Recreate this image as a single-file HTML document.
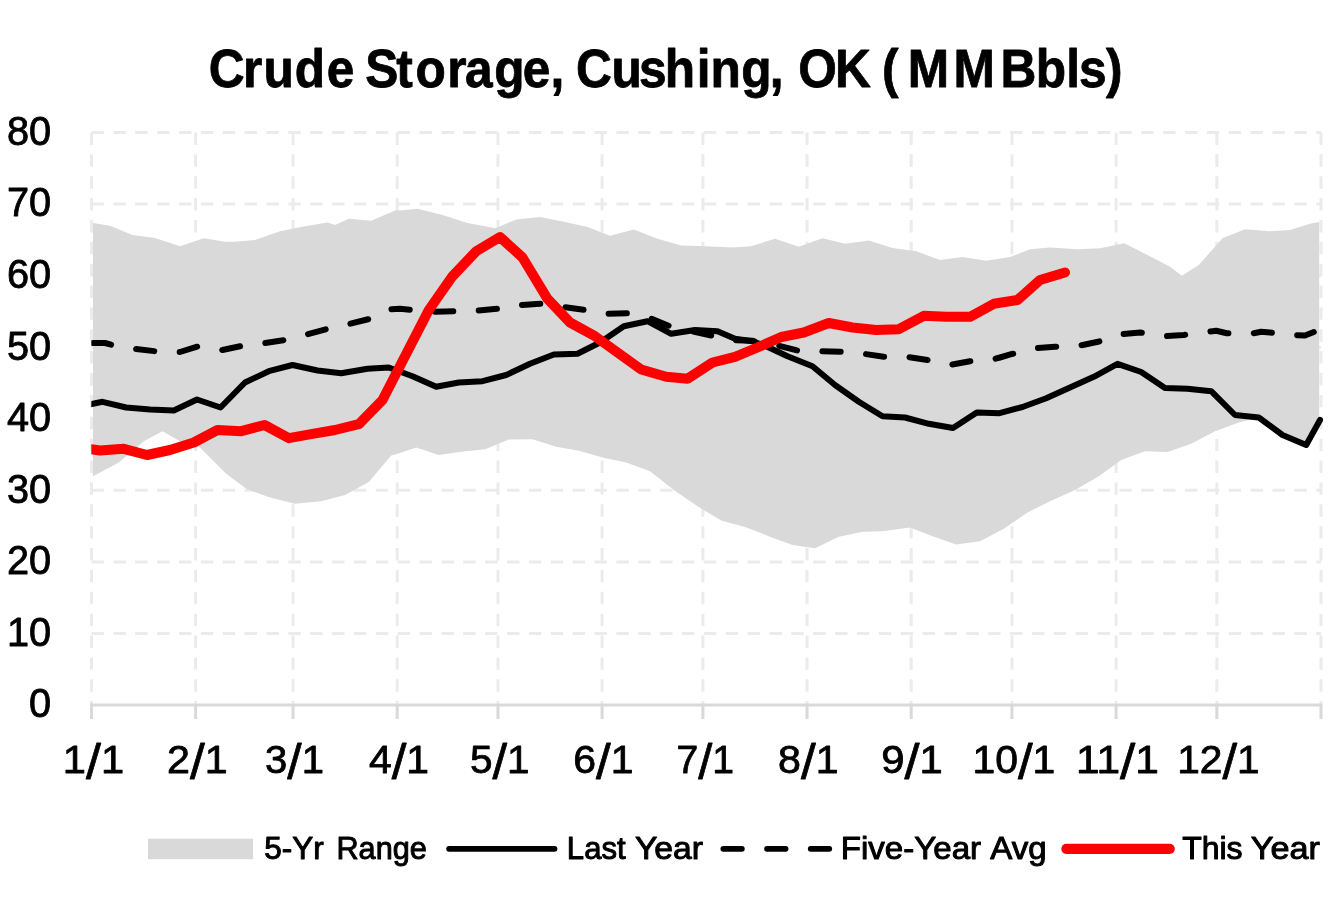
<!DOCTYPE html><html><head><meta charset="utf-8"><title>Crude Storage, Cushing, OK (MMBbls)</title>
<style>html,body{margin:0;padding:0;background:#fff;overflow:hidden;}svg{display:block;font-family:"Liberation Sans",sans-serif;}</style></head><body>
<svg width="1333" height="900" viewBox="0 0 1333 900">
<rect width="1333" height="900" fill="#fff"/>
<g stroke="#ebebeb" stroke-width="3" stroke-dasharray="12.4 9.47" fill="none"><line x1="91.5" y1="633.44" x2="1321.0" y2="633.44"/><line x1="91.5" y1="561.88" x2="1321.0" y2="561.88"/><line x1="91.5" y1="490.31" x2="1321.0" y2="490.31"/><line x1="91.5" y1="418.75" x2="1321.0" y2="418.75"/><line x1="91.5" y1="347.19" x2="1321.0" y2="347.19"/><line x1="91.5" y1="275.62" x2="1321.0" y2="275.62"/><line x1="91.5" y1="204.06" x2="1321.0" y2="204.06"/><line x1="91.5" y1="132.50" x2="1321.0" y2="132.50"/><line x1="91.5" y1="132.5" x2="91.5" y2="705.0"/><line x1="195.64" y1="132.5" x2="195.64" y2="705.0"/><line x1="293.06" y1="132.5" x2="293.06" y2="705.0"/><line x1="397.2" y1="132.5" x2="397.2" y2="705.0"/><line x1="497.97" y1="132.5" x2="497.97" y2="705.0"/><line x1="602.11" y1="132.5" x2="602.11" y2="705.0"/><line x1="702.89" y1="132.5" x2="702.89" y2="705.0"/><line x1="807.03" y1="132.5" x2="807.03" y2="705.0"/><line x1="911.17" y1="132.5" x2="911.17" y2="705.0"/><line x1="1011.95" y1="132.5" x2="1011.95" y2="705.0"/><line x1="1116.08" y1="132.5" x2="1116.08" y2="705.0"/><line x1="1216.86" y1="132.5" x2="1216.86" y2="705.0"/><line x1="1321.0" y1="132.5" x2="1321.0" y2="705.0"/></g>
<polygon fill="#d9d9d9" points="93.0,223.0 110.0,225.8 132.5,235.0 155.0,238.0 180.0,246.2 203.8,238.2 225.0,241.8 235.0,241.8 255.0,240.0 280.0,231.2 305.0,226.2 327.5,222.5 335.0,225.0 348.8,218.8 371.2,220.8 396.2,210.0 400.0,210.5 417.5,208.8 442.5,215.0 467.5,223.0 495.5,228.2 516.2,219.5 540.0,217.0 563.8,221.8 587.5,227.0 610.0,235.8 633.8,229.5 657.5,238.8 681.2,245.5 705.0,246.2 733.0,247.5 751.2,246.2 775.0,238.8 798.8,246.8 822.5,238.2 845.0,243.8 868.8,240.5 892.5,248.0 916.2,251.2 940.0,260.0 962.5,257.0 986.2,260.8 1010.0,257.0 1030.0,249.2 1050.0,247.5 1077.5,249.2 1100.0,248.2 1124.2,243.2 1147.5,255.0 1170.0,266.8 1181.8,275.8 1198.8,265.0 1222.5,238.2 1245.0,229.2 1268.8,231.2 1290.0,230.0 1310.0,223.8 1319.2,222.0 1319.2,421.2 1306.2,445.0 1282.5,435.0 1258.8,417.5 1238.8,422.5 1215.0,431.2 1191.2,443.8 1167.5,452.0 1145.0,451.2 1121.2,460.0 1098.8,476.2 1075.0,490.0 1050.0,501.2 1027.5,512.5 1003.8,528.8 980.0,541.2 956.2,544.5 932.5,536.2 910.0,527.5 882.5,531.2 862.5,531.8 838.8,536.8 815.0,548.2 792.5,545.0 768.8,536.2 745.0,527.0 721.2,520.5 697.5,506.2 673.8,490.0 650.0,471.2 626.2,462.5 602.5,457.5 578.8,450.8 556.2,446.8 532.5,439.2 508.8,439.5 485.0,449.2 461.2,451.8 438.8,455.0 416.2,447.5 400.0,453.0 391.2,455.5 368.8,482.0 345.0,495.0 321.2,501.2 295.0,503.8 270.0,497.5 246.2,488.8 226.2,473.8 200.0,447.5 180.0,441.2 162.5,431.2 143.8,441.2 118.8,462.5 93.0,476.2"/>
<clipPath id="pc"><rect x="91.3" y="100" width="1300" height="640"/></clipPath>
<g clip-path="url(#pc)">
<polyline fill="none" stroke="#000" stroke-width="6" stroke-linejoin="round" stroke-linecap="round" points="87.0,405.0 93.0,403.8 102.5,401.8 126.2,407.5 150.0,409.5 173.8,410.5 197.0,399.5 220.5,407.5 245.0,382.5 268.8,371.2 292.5,365.0 317.5,370.5 341.2,373.2 367.5,368.8 388.8,367.5 412.5,376.2 436.2,386.8 458.8,382.5 482.5,381.2 506.2,375.0 530.0,363.8 553.8,354.5 577.5,353.8 600.0,342.5 623.8,326.2 647.5,321.2 671.2,333.8 695.0,330.0 717.5,331.2 735.0,338.8 752.5,341.2 766.2,346.2 787.5,356.2 812.5,366.2 835.0,385.0 858.8,401.8 882.5,416.2 905.0,417.5 928.8,423.8 953.0,428.0 976.8,412.5 999.5,413.2 1022.5,407.0 1046.2,398.2 1070.0,387.5 1093.8,376.8 1117.5,363.8 1141.2,372.0 1165.0,388.0 1187.5,388.8 1211.2,391.2 1235.0,415.0 1258.8,417.5 1282.5,435.0 1306.2,445.0 1320.0,420.0"/>
<polyline fill="none" stroke="#000" stroke-width="6" stroke-linejoin="round" stroke-linecap="round" stroke-dasharray="18.3 25.4" stroke-dashoffset="-6" points="87.0,343.0 93.0,343.0 105.0,343.0 112.5,345.0 135.0,348.8 155.0,351.2 180.0,352.0 198.8,346.2 222.5,350.0 242.5,345.8 265.0,343.0 285.0,340.0 307.5,334.2 327.5,328.8 350.0,323.8 370.0,318.8 391.2,309.2 400.0,308.8 432.5,311.8 453.8,311.2 477.5,310.5 497.5,308.8 520.0,305.0 541.2,303.8 563.8,307.0 585.0,310.0 606.2,313.8 627.5,313.2 650.0,318.2 668.8,325.8 690.0,330.8 711.2,335.5 732.5,340.0 752.5,340.8 776.2,345.0 797.5,350.5 820.0,351.2 841.2,351.8 863.8,353.8 883.8,356.8 906.2,356.8 927.5,360.0 950.0,365.0 970.0,361.2 993.8,359.2 1000.0,357.5 1011.2,354.2 1036.2,348.2 1055.0,346.8 1080.0,345.5 1098.0,341.8 1121.2,334.2 1140.0,332.5 1165.0,336.2 1183.8,335.0 1207.5,331.8 1216.2,330.8 1226.8,333.2 1250.8,333.8 1261.2,331.8 1270.0,332.5 1293.8,335.0 1305.0,335.5 1313.8,332.0"/>
<polyline fill="none" stroke="#f00" stroke-width="10" stroke-linejoin="round" stroke-linecap="round" points="87.0,448.6 93.0,449.5 100.0,450.5 123.8,448.8 147.0,455.0 170.0,450.0 193.8,442.5 217.5,430.0 241.2,431.2 264.5,425.0 288.8,438.2 312.5,433.8 335.0,430.0 358.8,424.2 382.5,400.0 428.8,310.0 452.5,276.2 476.2,251.2 500.0,237.0 522.5,257.5 547.5,298.8 570.0,322.5 595.0,336.2 617.5,352.5 641.2,369.5 666.2,376.8 687.5,378.8 712.5,362.5 735.0,356.8 757.5,347.5 781.2,337.0 803.8,332.5 828.8,323.0 852.5,327.5 876.2,330.0 898.8,329.2 923.8,315.8 946.2,316.8 970.0,316.8 993.8,303.8 1017.5,300.0 1040.0,280.0 1065.0,272.5"/>
</g>
<g stroke="#d9d9d9" stroke-width="3" fill="none"><line x1="90.0" y1="705.0" x2="1322.5" y2="705.0"/><line x1="91.5" y1="705.0" x2="91.5" y2="719.0"/><line x1="195.64" y1="705.0" x2="195.64" y2="719.0"/><line x1="293.06" y1="705.0" x2="293.06" y2="719.0"/><line x1="397.2" y1="705.0" x2="397.2" y2="719.0"/><line x1="497.97" y1="705.0" x2="497.97" y2="719.0"/><line x1="602.11" y1="705.0" x2="602.11" y2="719.0"/><line x1="702.89" y1="705.0" x2="702.89" y2="719.0"/><line x1="807.03" y1="705.0" x2="807.03" y2="719.0"/><line x1="911.17" y1="705.0" x2="911.17" y2="719.0"/><line x1="1011.95" y1="705.0" x2="1011.95" y2="719.0"/><line x1="1116.08" y1="705.0" x2="1116.08" y2="719.0"/><line x1="1216.86" y1="705.0" x2="1216.86" y2="719.0"/><line x1="1321.0" y1="705.0" x2="1321.0" y2="719.0"/></g>
<g><text transform="translate(0,87) scale(0.9231,1)" font-size="53.8" font-weight="bold" fill="#000" stroke="#000" stroke-width="0.8" stroke-linejoin="round" x="226.06 263.29 285.38 319.27 353.91 383.87 395.75 429.31 450.25 484.50 503.83 535.39 566.29 596.45 611.80 624.12 662.33 692.12 720.03 754.85 769.65 803.08 833.86 849.70 864.74 904.59 942.05 955.53 983.33 1032.94 1083.91 1122.15 1155.14 1168.94 1198.20" y="0">Crude Storage, Cushing, OK (MMBbls)</text>
<text transform="translate(29.05,717.40) scale(0.9857,1)" font-size="40.3" fill="#000" stroke="#000" stroke-width="0.8" stroke-linejoin="round">0</text>
<text transform="translate(6.88,645.84) scale(0.9857,1)" font-size="40.3" fill="#000" stroke="#000" stroke-width="0.8" stroke-linejoin="round">10</text>
<text transform="translate(6.88,574.27) scale(0.9857,1)" font-size="40.3" fill="#000" stroke="#000" stroke-width="0.8" stroke-linejoin="round">20</text>
<text transform="translate(6.88,502.71) scale(0.9857,1)" font-size="40.3" fill="#000" stroke="#000" stroke-width="0.8" stroke-linejoin="round">30</text>
<text transform="translate(6.88,431.15) scale(0.9857,1)" font-size="40.3" fill="#000" stroke="#000" stroke-width="0.8" stroke-linejoin="round">40</text>
<text transform="translate(6.88,359.59) scale(0.9857,1)" font-size="40.3" fill="#000" stroke="#000" stroke-width="0.8" stroke-linejoin="round">50</text>
<text transform="translate(6.88,288.02) scale(0.9857,1)" font-size="40.3" fill="#000" stroke="#000" stroke-width="0.8" stroke-linejoin="round">60</text>
<text transform="translate(6.88,216.46) scale(0.9857,1)" font-size="40.3" fill="#000" stroke="#000" stroke-width="0.8" stroke-linejoin="round">70</text>
<text transform="translate(6.88,144.90) scale(0.9857,1)" font-size="40.3" fill="#000" stroke="#000" stroke-width="0.8" stroke-linejoin="round">80</text>
<text transform="translate(62.83,773.40) scale(1.0685,1)" font-size="39.0" fill="#000" stroke="#000" stroke-width="0.8" stroke-linejoin="round">1<tspan font-size="50.3" dy="5.7">/</tspan><tspan dy="-5.7">1</tspan></text>
<text transform="translate(167.11,773.40) scale(1.0581,1)" font-size="39.0" fill="#000" stroke="#000" stroke-width="0.8" stroke-linejoin="round">2<tspan font-size="50.3" dy="5.7">/</tspan><tspan dy="-5.7">1</tspan></text>
<text transform="translate(265.07,773.40) scale(1.0265,1)" font-size="39.0" fill="#000" stroke="#000" stroke-width="0.8" stroke-linejoin="round">3<tspan font-size="50.3" dy="5.7">/</tspan><tspan dy="-5.7">1</tspan></text>
<text transform="translate(368.98,773.40) scale(1.0480,1)" font-size="39.0" fill="#000" stroke="#000" stroke-width="0.8" stroke-linejoin="round">4<tspan font-size="50.3" dy="5.7">/</tspan><tspan dy="-5.7">1</tspan></text>
<text transform="translate(469.90,773.40) scale(1.0404,1)" font-size="39.0" fill="#000" stroke="#000" stroke-width="0.8" stroke-linejoin="round">5<tspan font-size="50.3" dy="5.7">/</tspan><tspan dy="-5.7">1</tspan></text>
<text transform="translate(573.22,773.40) scale(1.0507,1)" font-size="39.0" fill="#000" stroke="#000" stroke-width="0.8" stroke-linejoin="round">6<tspan font-size="50.3" dy="5.7">/</tspan><tspan dy="-5.7">1</tspan></text>
<text transform="translate(676.49,773.40) scale(1.0046,1)" font-size="39.0" fill="#000" stroke="#000" stroke-width="0.8" stroke-linejoin="round">7<tspan font-size="50.3" dy="5.7">/</tspan><tspan dy="-5.7">1</tspan></text>
<text transform="translate(778.08,773.40) scale(1.0550,1)" font-size="39.0" fill="#000" stroke="#000" stroke-width="0.8" stroke-linejoin="round">8<tspan font-size="50.3" dy="5.7">/</tspan><tspan dy="-5.7">1</tspan></text>
<text transform="translate(881.19,773.40) scale(1.0728,1)" font-size="39.0" fill="#000" stroke="#000" stroke-width="0.8" stroke-linejoin="round">9<tspan font-size="50.3" dy="5.7">/</tspan><tspan dy="-5.7">1</tspan></text>
<text transform="translate(972.38,773.40) scale(1.0493,1)" font-size="39.0" fill="#000" stroke="#000" stroke-width="0.8" stroke-linejoin="round">10<tspan font-size="50.3" dy="5.7">/</tspan><tspan dy="-5.7">1</tspan></text>
<text transform="translate(1075.98,773.40) scale(1.0893,1)" font-size="39.0" fill="#000" stroke="#000" stroke-width="0.8" stroke-linejoin="round">11<tspan font-size="50.3" dy="5.7">/</tspan><tspan dy="-5.7">1</tspan></text>
<text transform="translate(1177.19,773.40) scale(1.0427,1)" font-size="39.0" fill="#000" stroke="#000" stroke-width="0.8" stroke-linejoin="round">12<tspan font-size="50.3" dy="5.7">/</tspan><tspan dy="-5.7">1</tspan></text>
<text transform="translate(264.17,859.40) scale(0.9783,1)" font-size="32.2" fill="#000" stroke="#000" stroke-width="1.0" stroke-linejoin="round">5-Yr</text>
<text transform="translate(336.46,859.40) scale(0.9526,1)" font-size="32.2" fill="#000" stroke="#000" stroke-width="1.0" stroke-linejoin="round">Range</text>
<text transform="translate(566.82,859.40) scale(0.9668,1)" font-size="32.2" fill="#000" stroke="#000" stroke-width="1.0" stroke-linejoin="round">Last</text>
<text transform="translate(634.94,859.40) scale(1.0456,1)" font-size="32.2" fill="#000" stroke="#000" stroke-width="1.0" stroke-linejoin="round">Year</text>
<text transform="translate(840.79,859.40) scale(1.0272,1)" font-size="32.2" fill="#000" stroke="#000" stroke-width="1.0" stroke-linejoin="round">Five-Year</text>
<text transform="translate(990.31,859.40) scale(1.0270,1)" font-size="32.2" fill="#000" stroke="#000" stroke-width="1.0" stroke-linejoin="round">Avg</text>
<text transform="translate(1182.15,859.40) scale(0.9941,1)" font-size="32.2" fill="#000" stroke="#000" stroke-width="1.0" stroke-linejoin="round">This</text>
<text transform="translate(1250.73,859.40) scale(1.0625,1)" font-size="32.2" fill="#000" stroke="#000" stroke-width="1.0" stroke-linejoin="round">Year</text></g>
<rect x="148" y="838.7" width="105" height="20.5" fill="#d9d9d9"/>
<line x1="449.1" y1="848.8" x2="554.5" y2="848.8" stroke="#000" stroke-width="5.8" stroke-linecap="round"/>
<line x1="723.35" y1="848.8" x2="830" y2="848.8" stroke="#000" stroke-width="5.8" stroke-linecap="round" stroke-dasharray="18.5 25.2"/>
<line x1="1066.4" y1="848.9" x2="1169.7" y2="848.9" stroke="#f00" stroke-width="10.2" stroke-linecap="round"/>
</svg></body></html>
